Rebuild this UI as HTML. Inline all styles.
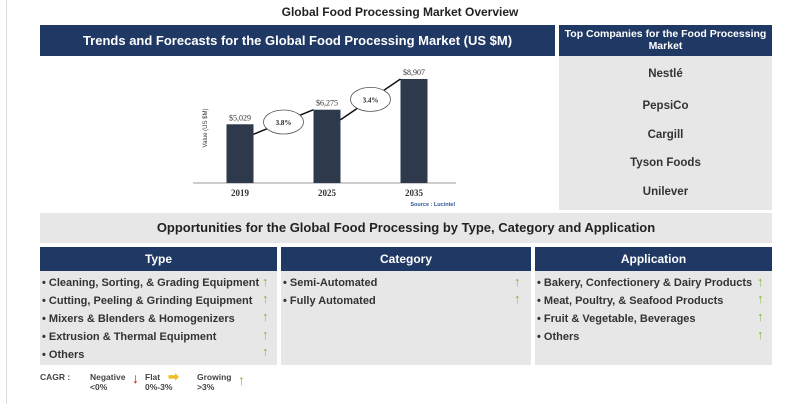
<!DOCTYPE html>
<html><head><meta charset="utf-8"><style>
body{margin:0;width:800px;height:404px;background:#fff;font-family:"Liberation Sans",Arial,sans-serif;position:relative;overflow:hidden}
div{position:absolute;box-sizing:border-box}
.nav{background:#1f3864;color:#fff;font-weight:bold;text-align:center}
.gr{background:#e7e7e7}
.li{font-size:11px;font-weight:bold;color:#333;line-height:18px;white-space:nowrap}
.up{color:#7dbb3e;font-weight:bold;font-size:13px;position:absolute}
.co{width:100%;text-align:center;font-size:11.5px;font-weight:bold;color:#333}
</style></head><body>
<div style="left:6px;top:0;width:1px;height:404px;background:#ddd"></div>
<div style="left:0;top:5px;width:800px;text-align:center;font-size:12px;font-weight:bold;color:#222">Global Food Processing Market Overview</div>
<div class="nav" style="left:40px;top:25px;width:515px;height:31px;line-height:31px;font-size:13px">Trends and Forecasts for the Global Food Processing Market (US $M)</div>
<div class="nav" style="left:559px;top:25px;width:213px;height:31px;font-size:10.5px;line-height:12px;padding-top:3px">Top Companies for the Food Processing Market</div>
<div class="gr" style="left:559px;top:56px;width:213px;height:154px">
<div class="co" style="top:12px">Nestlé</div>
<div class="co" style="top:44px">PepsiCo</div>
<div class="co" style="top:73px">Cargill</div>
<div class="co" style="top:101px">Tyson Foods</div>
<div class="co" style="top:130px">Unilever</div>
</div>
<svg id="chart" style="position:absolute;left:0;top:0" width="800" height="404"></svg>
<div class="gr" style="left:40px;top:213px;width:732px;height:30px;line-height:30px;text-align:center;font-size:13px;font-weight:bold;color:#222">Opportunities for the Global Food Processing by Type, Category and Application</div>
<div class="nav" style="left:40px;top:247px;width:237px;height:24px;line-height:24px;font-size:12px">Type</div>
<div class="nav" style="left:281px;top:247px;width:250px;height:24px;line-height:24px;font-size:12px">Category</div>
<div class="nav" style="left:535px;top:247px;width:237px;height:24px;line-height:24px;font-size:12px">Application</div>
<div class="gr" style="left:40px;top:271px;width:237px;height:94px;padding:3px 0 0 2px">
<div class="li" style="position:static">• Cleaning, Sorting, &amp; Grading Equipment</div>
<div class="li" style="position:static">• Cutting, Peeling &amp; Grinding Equipment</div>
<div class="li" style="position:static">• Mixers &amp; Blenders &amp; Homogenizers</div>
<div class="li" style="position:static">• Extrusion &amp; Thermal Equipment</div>
<div class="li" style="position:static">• Others</div>
<span class="up" style="left:222px;top:3px">↑</span><span class="up" style="left:222px;top:20px">↑</span><span class="up" style="left:222px;top:38px">↑</span><span class="up" style="left:222px;top:56px">↑</span><span class="up" style="left:222px;top:73px">↑</span>
</div>
<div class="gr" style="left:281px;top:271px;width:250px;height:94px;padding:3px 0 0 2px">
<div class="li" style="position:static">• Semi-Automated</div>
<div class="li" style="position:static">• Fully Automated</div>
<span class="up" style="left:233px;top:3px">↑</span><span class="up" style="left:233px;top:20px">↑</span>
</div>
<div class="gr" style="left:535px;top:271px;width:237px;height:94px;padding:3px 0 0 2px">
<div class="li" style="position:static">• Bakery, Confectionery &amp; Dairy Products</div>
<div class="li" style="position:static">• Meat, Poultry, &amp; Seafood Products</div>
<div class="li" style="position:static">• Fruit &amp; Vegetable, Beverages</div>
<div class="li" style="position:static">• Others</div>
<span class="up" style="left:222px;top:3px">↑</span><span class="up" style="left:222px;top:20px">↑</span><span class="up" style="left:222px;top:38px">↑</span><span class="up" style="left:222px;top:56px">↑</span>
</div>
<div style="left:40px;top:372px;width:300px;height:28px;font-size:8.5px;font-weight:bold;color:#444">
<div style="left:0;top:0">CAGR :</div>
<div style="left:50px;top:0;line-height:10px">Negative<br>&lt;0%</div>
<div style="left:92px;top:-2px;color:#d01010;font-size:14px">↓</div>
<div style="left:105px;top:0;line-height:10px">Flat<br>0%-3%</div>
<div style="left:128px;top:-3px;color:#f0c020;font-size:13px">➡</div>
<div style="left:157px;top:0;line-height:10px">Growing<br>&gt;3%</div>
<div style="left:198px;top:0;color:#7dbb3e;font-size:14px">↑</div>
</div>
<script>
const years=['2019','2025','2035'];
const values=[5029,6275,8907];
const valueLabels=['$5,029','$6,275','$8,907'];
const cagrLabels=['3.8%','3.4%'];
const svg=document.getElementById('chart');const NS='http://www.w3.org/2000/svg';
const base=183,x0=240,step=87,bw=27,scale=104/8907;
const xs=i=>x0+i*step, ys=v=>base-v*scale;
function mk(t,a,txt){const e=document.createElementNS(NS,t);for(const k in a)e.setAttribute(k,a[k]);if(txt)e.textContent=txt;svg.appendChild(e);return e;}
let ax=mk('line',{x1:193,y1:base,x2:456,y2:base,stroke:'#999','stroke-width':1});

let yt=mk('text',{x:0,y:0,transform:'translate(207,128) rotate(-90)','font-size':6,'text-anchor':'middle','font-family':'Liberation Sans',fill:'#333'},'Value (US $M)');

values.forEach((v,i)=>{
 const r=mk('rect',{x:xs(i)-bw/2,y:ys(v),width:bw,height:base-ys(v),fill:'#2e3a4b'});
 
 const l=mk('text',{x:xs(i),y:ys(v)-4,'font-size':8,'text-anchor':'middle','font-family':'Liberation Serif',fill:'#333'},valueLabels[i]);
 
 const t=mk('text',{x:xs(i),y:base+13,'font-size':9,'text-anchor':'middle','font-family':'Liberation Serif','font-weight':'bold',fill:'#333'},years[i]);
 
});
cagrLabels.forEach((c,i)=>{
 const x1=xs(i)+bw/2,y1=ys(values[i])+10,x2=xs(i+1)-bw/2,y2=ys(values[i+1]);
 const a=mk('line',{x1:x1,y1:y1,x2:x2,y2:y2,stroke:'#111','stroke-width':1.5});
 
 const cx=(x1+x2)/2,cy=(y1+y2)/2;
 const e=mk('ellipse',{cx:cx,cy:cy,rx:20,ry:12,fill:'#fff',stroke:'#555','stroke-width':0.8});
 
 const t=mk('text',{x:cx,y:cy+3,'font-size':7,'text-anchor':'middle','font-family':'Liberation Serif','font-weight':'bold',fill:'#222'},c);
 
});
let s=mk('text',{x:455,y:206,'font-size':5.5,'text-anchor':'end','font-family':'Liberation Sans','font-weight':'bold',fill:'#2f5597'},'Source : Lucintel');

</script>
</body></html>
